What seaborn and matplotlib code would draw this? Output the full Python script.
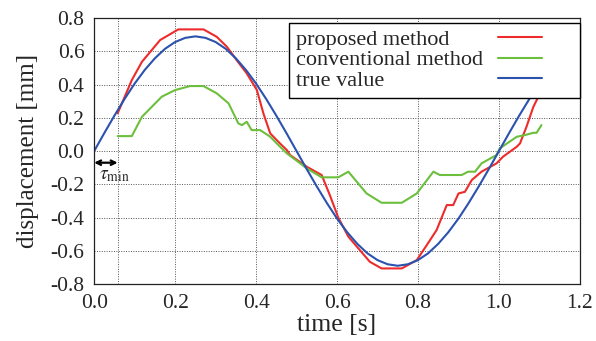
import pandas as pd
import matplotlib
matplotlib.use("Agg")
import matplotlib.pyplot as plt
import seaborn as sns
from matplotlib.offsetbox import DrawingArea

# true value
t_true = [0.0, 0.025, 0.05, 0.075, 0.1, 0.125, 0.15, 0.175, 0.2, 0.225, 0.25,
          0.275, 0.3, 0.325, 0.35, 0.375, 0.4, 0.425, 0.45, 0.475, 0.5,
          0.525, 0.55, 0.575, 0.6, 0.625, 0.65, 0.675, 0.7, 0.725, 0.75,
          0.775, 0.8, 0.825, 0.85, 0.875, 0.9, 0.925, 0.95, 0.975, 1.0,
          1.025, 1.05, 1.075, 1.1, 1.125, 1.15, 1.175, 1.2]
true_val = [0.0, 0.108, 0.213, 0.313, 0.406, 0.488, 0.558, 0.615, 0.656, 0.681, 0.69,
            0.681, 0.656, 0.615, 0.558, 0.488, 0.406, 0.313, 0.213, 0.108, 0.0,
            -0.108, -0.213, -0.313, -0.406, -0.488, -0.558, -0.615, -0.656, -0.681, -0.69,
            -0.681, -0.656, -0.615, -0.558, -0.488, -0.406, -0.313, -0.213, -0.108, 0.0,
            0.108, 0.213, 0.313, 0.406, 0.488, 0.558, 0.615, 0.656]

# proposed method (red)
t_prop = [0.058, 0.093, 0.118, 0.163, 0.208, 0.27, 0.303, 0.328, 0.352, 0.377,
          0.402, 0.418, 0.435, 0.459, 0.476, 0.484, 0.525, 0.562, 0.583, 0.603,
          0.628, 0.649, 0.681, 0.71, 0.76, 0.797, 0.83, 0.846, 0.871, 0.887,
          0.9, 0.916, 0.933, 0.957, 0.994, 1.01, 1.044, 1.052, 1.068, 1.085, 1.1]
prop_val = [0.227, 0.427, 0.537, 0.668, 0.732, 0.732, 0.687, 0.627, 0.547, 0.467,
            0.367, 0.227, 0.106, 0.046, 0.006, -0.024, -0.094, -0.144, -0.27, -0.4,
            -0.515, -0.575, -0.666, -0.706, -0.706, -0.656, -0.535, -0.475, -0.325, -0.325,
            -0.255, -0.245, -0.174, -0.124, -0.074, -0.034, 0.026, 0.046, 0.146, 0.266, 0.34]

# conventional method (green)
t_conv = [0.058, 0.093, 0.118, 0.167, 0.2, 0.237, 0.27, 0.303, 0.332, 0.356,
          0.365, 0.377, 0.389, 0.41, 0.435, 0.451, 0.476, 0.509, 0.525, 0.562,
          0.603, 0.628, 0.673, 0.71, 0.76, 0.797, 0.838, 0.854, 0.908, 0.924,
          0.941, 0.957, 0.994, 1.002, 1.044, 1.064, 1.085, 1.093, 1.105]
conv_val = [0.09, 0.09, 0.206, 0.327, 0.367, 0.391, 0.391, 0.347, 0.287, 0.167,
            0.156, 0.176, 0.126, 0.126, 0.086, 0.046, -0.014, -0.074, -0.104, -0.158,
            -0.158, -0.124, -0.255, -0.311, -0.311, -0.255, -0.124, -0.144, -0.144, -0.124,
            -0.124, -0.074, -0.024, 0.016, 0.086, 0.096, 0.11, 0.11, 0.156]

labels = ["proposed method", "conventional method", "true value"]
colors = {"proposed method": "#ee2b2b",
          "conventional method": "#6cbf3c",
          "true value": "#2b52ae"}
tau_min = 0.058

df = pd.concat([
    pd.DataFrame({"time": t_prop, "disp": prop_val, "series": labels[0]}),
    pd.DataFrame({"time": t_conv, "disp": conv_val, "series": labels[1]}),
    pd.DataFrame({"time": t_true, "disp": true_val, "series": labels[2]}),
])

sns.set_style("white")
plt.rcParams["font.family"] = ["Liberation Serif", "DejaVu Serif"]
plt.rcParams["mathtext.fontset"] = "stix"

fig, ax = plt.subplots(figsize=(5.96, 3.41), dpi=100)
fig.subplots_adjust(left=0.158, right=0.973, top=0.947, bottom=0.167)

sns.lineplot(data=df, x="time", y="disp", hue="series", hue_order=labels,
             palette=colors, estimator=None, sort=False, linewidth=1.5, ax=ax)

ax.set_xlim(0, 1.2)
ax.set_ylim(-0.8, 0.8)
ax.set_xticks([0.0, 0.2, 0.4, 0.6, 0.8, 1.0, 1.2])
ax.set_yticks([-0.8, -0.6, -0.4, -0.2, 0.0, 0.2, 0.4, 0.6, 0.8])
ax.set_xticklabels([f"{v:.1f}" for v in ax.get_xticks()])
ax.set_yticklabels([f"{v:.1f}" for v in ax.get_yticks()])
ax.tick_params(direction="in", length=3, width=0.8, labelsize=15.5, pad=7)
ax.grid(True, linestyle=(0, (1, 1.5)), color="#555555", linewidth=0.7)
ax.axvline(tau_min, linestyle=(0, (1, 1.5)), color="#555555", linewidth=0.7, zorder=0)
for s in ax.spines.values():
    s.set_color("#222222")
    s.set_linewidth(0.9)

ax.set_xlabel("time [s]", fontsize=18.5, labelpad=1)
ax.set_ylabel("displacement [mm]", fontsize=18, labelpad=8)

# tau_min arrow
ax.annotate("", xy=(0, -0.07), xytext=(tau_min, -0.07),
            arrowprops=dict(arrowstyle="<->", color="black", lw=1.6,
                            mutation_scale=8, shrinkA=0, shrinkB=0))
ax.text(0.012, -0.145, r"$\tau_{\rm min}$", fontsize=14, va="center", ha="left")

# legend: text left, line handle on the right
handles, _ = ax.get_legend_handles_labels()
leg = ax.legend(handles, labels, loc="upper right", bbox_to_anchor=(1.0, 0.983),
                borderaxespad=0, markerfirst=False, fontsize=16, frameon=True,
                fancybox=False, edgecolor="black", framealpha=1,
                handlelength=2.0, handletextpad=0.34, labelspacing=0.0,
                borderpad=0.3)
leg.get_frame().set_linewidth(1.0)

fig.canvas.draw()
r = fig.canvas.get_renderer()
col = leg._legend_handle_box.get_children()[0]
col.align = "left"
widths = [t.get_window_extent(r).width for t in leg.get_texts()]
for item, w in zip(col.get_children(), widths):
    kids = item.get_children()
    text_box, handle_box = kids[0], kids[1]
    gap = DrawingArea((max(widths) - w) / (fig.dpi / 72.0), 0)
    kids[:] = [text_box, gap, handle_box, DrawingArea(17, 0)]

fig.savefig("out.png", dpi=100)
